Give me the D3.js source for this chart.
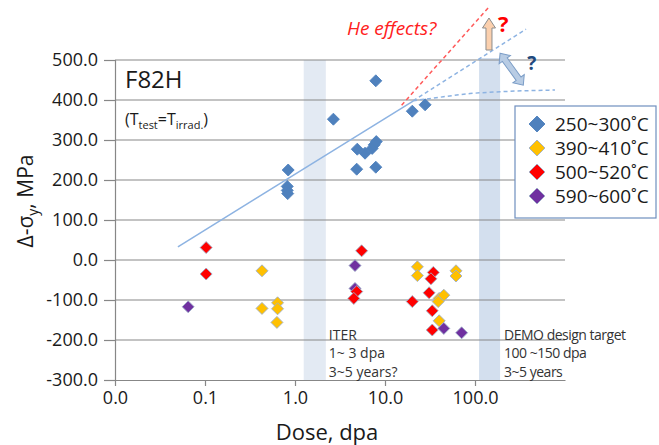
<!DOCTYPE html>
<html><head><meta charset="utf-8">
<script src="https://cdn.jsdelivr.net/npm/d3@7/dist/d3.min.js"></script>
<style>body{margin:0;background:#fff} svg{display:block} text{font-family:"Open Sans",sans-serif}</style>
</head><body><svg id="c" width="659" height="445"></svg>
<script>
// ---- data ----
const xTicks = [0.01, 0.1, 1, 10, 100];
const xTickLabels = ["0.0", "0.1", "1.0", "10.0", "100.0"];
const yTicks = [-300, -200, -100, 0, 100, 200, 300, 400, 500];
const yTickLabels = ["-300.0", "-200.0", "-100.0", "0.0", "100.0", "200.0", "300.0", "400.0", "500.0"];
const seriesNames = ["250~300˚C", "390~410˚C", "500~520˚C", "590~600˚C"];
const seriesColors = ["#4f81bd", "#ffc000", "#ff0000", "#7030a0"];

const dose250 = [0.84, 0.82, 0.82, 0.83, 2.67, 7.9, 4.92, 6.0, 7.2, 7.6, 8.0, 4.85, 7.9, 20.1, 27.9];
const val250  = [225, 184, 174, 166, 352, 448, 277, 267, 279, 288, 296, 227, 232, 372, 388];
const dose390 = [0.43, 0.43, 0.64, 0.64, 0.63, 22.9, 22.9, 61.5, 61.5, 40, 45, 39, 40];
const val390  = [-27, -121, -107, -122, -156, -17, -39, -27, -40, -96, -88, -104, -152];
const dose500 = [0.103, 0.103, 5.5, 4.85, 4.5, 34.4, 32.4, 30.9, 20.1, 33.5, 33.5];
const val500  = [31, -35, 23, -79, -96, -31, -47, -82, -104, -127, -175];
const dose590 = [0.065, 4.64, 4.64, 45, 71];
const val590  = [-117, -14, -71, -171, -182];

// trend & speculative extrapolations
const trendDose = [0.05, 20.5];
const trendVal  = [33, 397];
const heDashDose = [15.3, 140];
const heDashVal  = [387, 630];
const upDashDose = [20.5, 369];
const upDashVal  = [398, 577];
const satDashDose = [20.5, 44.5, 88, 206, 774];
const satDashVal  = [398, 408, 416, 421, 425];

// bands (dpa)
const iterBand = [1.25, 2.2];
const demoBand = [111, 190];

// ---- layout ----
const svg = d3.select("#c");
const x = d3.scaleLog().domain([0.01, 1000]).range([115, 565]);
const y = d3.scaleLinear().domain([-300, 500]).range([380, 60]);
const grid = "#878787";

// bands
svg.append("rect").attr("x", x(iterBand[0])).attr("width", x(iterBand[1]) - x(iterBand[0]))
  .attr("y", y(500)).attr("height", y(-300) - y(500)).attr("fill", "#e3eaf3");
svg.append("rect").attr("x", x(demoBand[0])).attr("width", x(demoBand[1]) - x(demoBand[0]))
  .attr("y", y(500) - 2).attr("height", y(-300) - y(500) + 2).attr("fill", "#d3dfee");

// gridlines
svg.append("g").selectAll("line").data(yTicks.filter(v => v > -300)).join("line")
  .attr("x1", x(0.01)).attr("x2", x(1000)).attr("y1", d => y(d)).attr("y2", d => y(d))
  .attr("stroke", grid).attr("stroke-width", 1.2);

// axes
const yAxis = d3.axisLeft(y).tickValues(yTicks).tickSize(11).tickPadding(6)
  .tickFormat((d, i) => yTickLabels[i]);
const gy = svg.append("g").attr("transform", `translate(${x(0.01)},0)`).call(yAxis);
gy.select(".domain").attr("stroke", grid).attr("stroke-width", 1.2);
gy.selectAll(".tick line").attr("stroke", grid).attr("stroke-width", 1.2);
gy.selectAll("text").attr("font-size", 18).attr("fill", "#1a1a1a").attr("font-family", "Open Sans");

const xAxis = d3.axisBottom(x).tickValues(xTicks).tickSize(6).tickSizeOuter(0).tickPadding(5)
  .tickFormat((d, i) => xTickLabels[i]);
const gx = svg.append("g").attr("transform", `translate(0,${y(-300)})`).call(xAxis);
gx.select(".domain").attr("stroke", grid).attr("stroke-width", 1.2);
gx.selectAll(".tick line").attr("stroke", grid).attr("stroke-width", 1.2);
gx.selectAll("text").attr("font-size", 18).attr("fill", "#1a1a1a").attr("font-family", "Open Sans");

// trend lines
const line = d3.line().x(d => x(d[0])).y(d => y(d[1]));
const zip = (a, b) => a.map((v, i) => [v, b[i]]);
svg.append("path").attr("d", line(zip(trendDose, trendVal))).attr("fill", "none")
  .attr("stroke", "#8db3e2").attr("stroke-width", 1.5);
svg.append("path").attr("d", line(zip(heDashDose, heDashVal))).attr("fill", "none")
  .attr("stroke", "#ff5a5a").attr("stroke-width", 1.5).attr("stroke-dasharray", "4,3");
svg.append("path").attr("d", line(zip(upDashDose, upDashVal))).attr("fill", "none")
  .attr("stroke", "#8db3e2").attr("stroke-width", 1.5).attr("stroke-dasharray", "4,3");
svg.append("path").attr("d", line.curve(d3.curveMonotoneX)(zip(satDashDose, satDashVal))).attr("fill", "none")
  .attr("stroke", "#8db3e2").attr("stroke-width", 1.5).attr("stroke-dasharray", "4,3");

// points
const diamond = r => `M0,${-r}L${r},0L0,${r}L${-r},0Z`;
const series = [
  {d: dose250, v: val250, c: 0},
  {d: dose390, v: val390, c: 1},
  {d: dose590, v: val590, c: 3},
  {d: dose500, v: val500, c: 2}
];
series.forEach(s => {
  svg.append("g").selectAll("path").data(zip(s.d, s.v)).join("path")
    .attr("d", diamond(6))
    .attr("transform", d => `translate(${x(d[0])},${y(d[1])})`)
    .attr("fill", seriesColors[s.c])
    .attr("stroke", s.c === 0 ? seriesColors[0] : "#9fb0c8").attr("stroke-width", 0.9);
});

// legend
const lg = svg.append("g");
lg.append("rect").attr("x", 515).attr("y", 106).attr("width", 141).attr("height", 112)
  .attr("fill", "#fff").attr("stroke", "#6f8fbf").attr("stroke-width", 1.2);
seriesNames.forEach((n, i) => {
  const yy = 124 + i * 24;
  lg.append("path").attr("d", diamond(8)).attr("transform", `translate(537,${yy})`)
    .attr("fill", seriesColors[i]).attr("stroke", i === 0 ? seriesColors[0] : "#9fb0c8").attr("stroke-width", 0.9);
  lg.append("text").attr("x", 555).attr("y", yy + 7).attr("font-size", 19).attr("fill", "#1a1a1a").text(n);
});

// text annotations
svg.append("text").attr("x", 125).attr("y", 88).attr("font-size", 24).attr("fill", "#1a1a1a").text("F82H");
const tt = svg.append("text").attr("x", 125).attr("y", 125).attr("font-size", 16).attr("fill", "#1a1a1a");
tt.append("tspan").text("(T");
tt.append("tspan").attr("font-size", 11).attr("dy", 4).text("test");
tt.append("tspan").attr("dy", -4).text("=T");
tt.append("tspan").attr("font-size", 11).attr("dy", 4).text("irrad.");
tt.append("tspan").attr("dy", -4).text(")");

const iterTxt = ["ITER", "1~ 3 dpa", "3~5 years?"];
iterTxt.forEach((t, i) => svg.append("text").attr("x", x(iterBand[1]) + 3).attr("y", 340 + i * 18.4)
  .attr("font-size", 14).attr("fill", "#333").text(t));
const demoTxt = ["DEMO design target", "100 ~150  dpa", "3~5 years"];
demoTxt.forEach((t, i) => svg.append("text").attr("x", x(demoBand[1]) + 4).attr("y", 340 + i * 18.4)
  .attr("font-size", 14).attr("letter-spacing", -0.5).attr("fill", "#333").text(t));

svg.append("text").attr("x", 347).attr("y", 35).attr("font-size", 19).attr("font-style", "italic")
  .attr("fill", "#ff2020").text("He effects?");

// up arrow (orange)
const ax = x(143), ay0 = y(525), ay1 = y(605);
svg.append("path").attr("d",
  `M${ax - 3},${ay0}L${ax - 3},${ay1 + 10}L${ax - 6.5},${ay1 + 10}L${ax},${ay1}L${ax + 6.5},${ay1 + 10}L${ax + 3},${ay1 + 10}L${ax + 3},${ay0}Z`)
  .attr("fill", "#fbd0ae").attr("stroke", "#8c8c8c").attr("stroke-width", 1);
svg.append("text").attr("x", ax + 9).attr("y", ay1 + 14).attr("font-size", 22).attr("font-weight", "bold")
  .attr("fill", "#ff0000").text("?");

// double arrow (blue)
const bx0 = x(190), by0 = y(517), bx1 = x(344), by1 = y(437);
const ang = Math.atan2(by1 - by0, bx1 - bx0) * 180 / Math.PI;
const L = Math.hypot(bx1 - bx0, by1 - by0);
svg.append("path").attr("transform", `translate(${bx0},${by0}) rotate(${ang})`).attr("d",
  `M0,0L8,-7L8,-3L${L - 8},-3L${L - 8},-7L${L},0L${L - 8},7L${L - 8},3L8,3L8,7Z`)
  .attr("fill", "#b8cce4").attr("stroke", "#7a9cc6").attr("stroke-width", 1);
svg.append("text").attr("x", bx1 + 4).attr("y", by0 + 17).attr("font-size", 19).attr("font-weight", "bold")
  .attr("fill", "#1f497d").text("?");

// axis titles
svg.append("text").attr("x", 327).attr("y", 440).attr("text-anchor", "middle").attr("font-size", 22)
  .attr("fill", "#1a1a1a").text("Dose, dpa");
const yl = svg.append("text").attr("transform", "translate(33,201) rotate(-90)").attr("text-anchor", "middle")
  .attr("font-size", 21).attr("fill", "#1a1a1a");
yl.append("tspan").text("Δ-σ");
yl.append("tspan").attr("font-size", 14).attr("dy", 5).text("y");
yl.append("tspan").attr("dy", -5).text(", MPa");
</script></body></html>
